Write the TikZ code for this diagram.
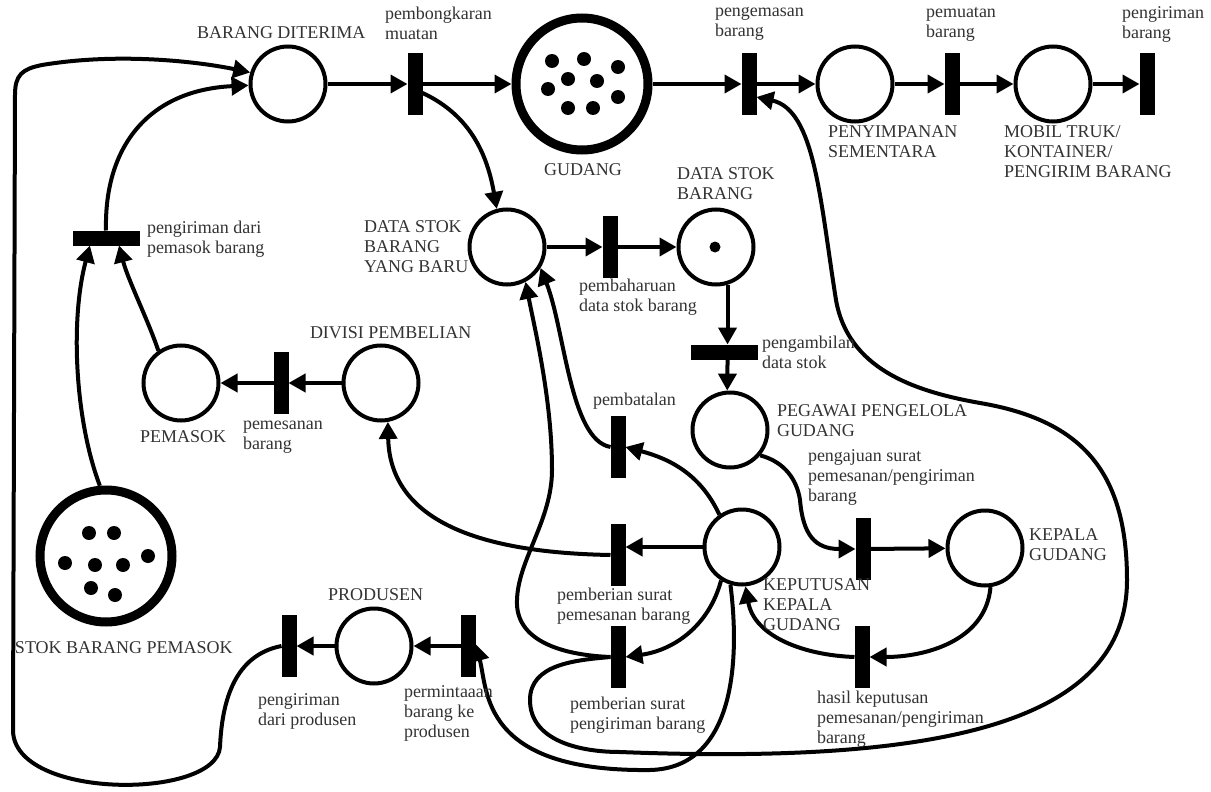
\documentclass[tikz,border=0pt]{standalone}
\usepackage{fontspec}
\setmainfont{Liberation Serif}
\usetikzlibrary{arrows.meta}
\definecolor{txt}{HTML}{333333}
\newcommand\lblfont{\fontsize{18}{20}\selectfont}
\begin{document}
\begin{tikzpicture}[x=1pt,y=1pt,
  pl/.style={circle,draw,line width=4pt,minimum size=75pt,inner sep=0pt},
  bigpl/.style={circle,draw,line width=9pt,minimum size=132pt,inner sep=0pt},
  vbar/.style={rectangle,fill=black,minimum width=15pt,minimum height=62pt,inner sep=0pt,outer sep=0pt},
  hbar/.style={rectangle,fill=black,minimum width=67pt,minimum height=15pt,inner sep=0pt,outer sep=0pt},
  flow/.style={line width=4pt,-{Triangle[length=17pt,width=18pt]}},
  lbl/.style={anchor=north west,inner sep=0pt,outer sep=0pt,align=left,font=\lblfont,text=txt,execute at begin node=\strut},
  lblc/.style={lbl,anchor=north,align=center}
]
\fill[white] (0,0) rectangle (1211,-792);
\useasboundingbox (0,0) rectangle (1211,-792);

% places and transitions
\node[pl] (BD) at (288,-84) {};
\node[vbar] (Tb) at (415,-84) {};
\node[bigpl] (G) at (582,-84) {};
\node[vbar] (Tk) at (749,-84) {};
\node[pl] (PS) at (855,-84) {};
\node[vbar] (Tm) at (952,-84) {};
\node[pl] (MT) at (1053,-84) {};
\node[vbar] (Tki) at (1147,-84) {};
\node[pl] (DSB) at (507,-247) {};
\node[vbar] (Tp) at (610,-247) {};
\node[pl] (DS) at (716,-247) {};
\node[hbar] (Ta) at (724,-352) {};
\node[pl] (PG) at (730,-430) {};
\node[hbar] (Tpm) at (106,-238) {};
\node[pl] (PM) at (181,-383) {};
\node[vbar] (Tps) at (281,-383) {};
\node[pl] (DP) at (381,-383) {};
\node[bigpl] (SBP) at (106,-556) {};
\node[vbar] (Tbt) at (618,-447) {};
\node[pl] (KK) at (742,-547) {};
\node[vbar] (Tsp) at (618,-555) {};
\node[vbar] (Tsk) at (618,-657) {};
\node[vbar] (Taj) at (863,-549) {};
\node[pl] (KG) at (985,-548) {};
\node[vbar] (Th) at (862,-657) {};
\node[pl] (PR) at (374,-646) {};
\node[vbar] (Tmi) at (468,-646) {};
\node[vbar] (Tpr) at (289,-646) {};

% tokens
\foreach \p in {(552,-61),(584,-59),(618,-67),(568,-79),(597,-81),(548,-89),(618,-97),(568,-108),(593,-108)}
  \fill \p circle (7);
\foreach \p in {(89,-533),(114,-533),(65,-563),(95,-565),(123,-565),(148,-556),(91,-588),(115,-595)}
  \fill \p circle (7);
\fill (715,-247) circle (5.5);

% connectors
\draw[flow] (BD) -- (Tb);
\draw[flow] (Tb) -- (G);
\draw[flow] (G) -- (Tk);
\draw[flow] (Tk) -- (PS);
\draw[flow] (PS) -- (Tm);
\draw[flow] (Tm) -- (MT);
\draw[flow] (MT) -- (Tki);
\draw[flow] (Tb.-50) to[out=-25,in=100] (DSB.105);
\draw[flow] (DSB) -- (Tp);
\draw[flow] (Tp) -- (DS);
\coordinate (dsout) at (DS.-73);
\draw[flow] (dsout) -- (dsout |- Ta.north);
\draw[flow] (Ta.south -| dsout) -- (PG.94);
\draw[flow] (PG.-40) .. controls (785,-462) and (797,-480) .. (800,-500) .. controls (803,-535) and (815,-549) .. (Taj.west);
\draw[flow] (Taj) -- (KG);
\draw[flow] (KG.-82) to[out=-95,in=0] (Th.east);
\draw[flow] (Th.west) to[out=178,in=-80] (KK.-85);
\draw[flow] (KK.west) -- (KK.west -| Tsp.east);
\draw[flow] (Tsp.west) .. controls (500,-553) and (390,-530) .. (DP.-80);
\draw[flow] (DP) -- (Tps);
\draw[flow] (Tps) -- (PM);
\draw[flow] (PM.125) .. controls (148,-320) and (128,-280) .. (Tpm.-30);
\draw[flow] (SBP.95) .. controls (75,-420) and (70,-320) .. (Tpm.-155);
\draw[flow] (Tpm.north) .. controls (104,-145) and (150,-90) .. (BD.182);
\draw[flow] (KK.125) to[out=115,in=-15] (Tbt.east);
\draw[flow] (Tbt.west) .. controls (570,-440) and (565,-330) .. (DSB.-32);
\draw[flow] (KK.-122) to[out=-105,in=8] (Tsk.east);
\draw[flow] (Tsk.west) .. controls (560,-655) and (515,-640) .. (517,-600) .. controls (518,-560) and (552,-520) .. (552,-470) .. controls (552,-400) and (535,-330) .. (DSB.-62);
\draw[flow] (Tsk.west) to[out=185,in=90] (530,-700) to[out=-90,in=180] (620,-752) .. controls (950,-765) and (1127,-720) .. (1127,-580) .. controls (1127,-470) and (1080,-420) .. (980,-403) to[out=170,in=-80] (836,-300) .. controls (820,-200) and (815,-110) .. (Tk.-60);
\draw[flow] (KK.-107) .. controls (740,-660) and (735,-768) .. (650,-770) .. controls (480,-772) and (488,-690) .. (Tmi.15);
\draw[flow] (Tmi) -- (PR);
\draw[flow] (PR) -- (Tpr);
\draw[flow] (Tpr.west) .. controls (235,-655) and (222,-700) .. (220,-747) .. controls (216,-800) and (13,-800) .. (13,-730) -- (15,-95) .. controls (15,-75) and (22,-69) .. (42,-65) .. controls (120,-52) and (200,-62) .. (BD.163);

% labels (north = baseline - 14)
\node[lbl] (lBD) at (197,-25) {BARANG DITERIMA};
\node[lbl] (lTb) at (385,-7) {pembongkaran\\muatan};
\node[lblc] (lG) at (583,-161) {GUDANG};
\node[lbl] (lTk) at (715,-7) {pengemasan\\barang};
\node[lbl] (lTm) at (926,-7) {pemuatan\\barang};
\node[lbl] (lTki) at (1122,-7) {pengiriman\\barang};
\node[lbl] (lPS) at (828,-126) {PENYIMPANAN\\SEMENTARA};
\node[lbl] (lMT) at (1004,-126) {MOBIL TRUK/\\KONTAINER/\\PENGIRIM BARANG};
\node[lbl] (lDS) at (677,-168) {DATA STOK\\BARANG};
\node[lbl] (lDSB) at (364,-221) {DATA STOK\\BARANG\\YANG BARU};
\node[lbl] (lTpm) at (147,-221) {pengiriman dari\\pemasok barang};
\node[lbl] (lTp) at (579,-279) {pembaharuan\\data stok barang};
\node[lbl] (lDP) at (310,-324) {DIVISI PEMBELIAN};
\node[lbl] (lTa) at (762,-336) {pengambilan\\data stok};
\node[lbl] (lTbt) at (593,-391) {pembatalan};
\node[lbl] (lPG) at (777,-405) {PEGAWAI PENGELOLA\\GUDANG};
\node[lbl] (lPM) at (140,-428) {PEMASOK};
\node[lbl] (lTps) at (243,-421) {pemesanan\\barang};
\node[lbl] (lTaj) at (808,-450) {pengajuan surat\\pemesanan/pengiriman\\barang};
\node[lbl] (lKG) at (1029,-529) {KEPALA\\GUDANG};
\node[lbl] (lKK) at (763,-579) {KEPUTUSAN\\KEPALA\\GUDANG};
\node[lbl] (lTsp) at (557,-588) {pemberian surat\\pemesanan barang};
\node[lbl] (lPR) at (328,-586) {PRODUSEN};
\node[lbl] (lSBP) at (15,-639) {STOK BARANG PEMASOK};
\node[lbl] (lTpr) at (258,-694) {pengiriman\\dari produsen};
\node[lbl] (lTmi) at (404,-686) {permintaaan\\barang ke\\produsen};
\node[lbl] (lTsk) at (570,-697) {pemberian surat\\pengiriman barang};
\node[lbl] (lTh) at (817,-691) {hasil keputusan\\pemesanan/pengiriman\\barang};
\end{tikzpicture}
\end{document}
